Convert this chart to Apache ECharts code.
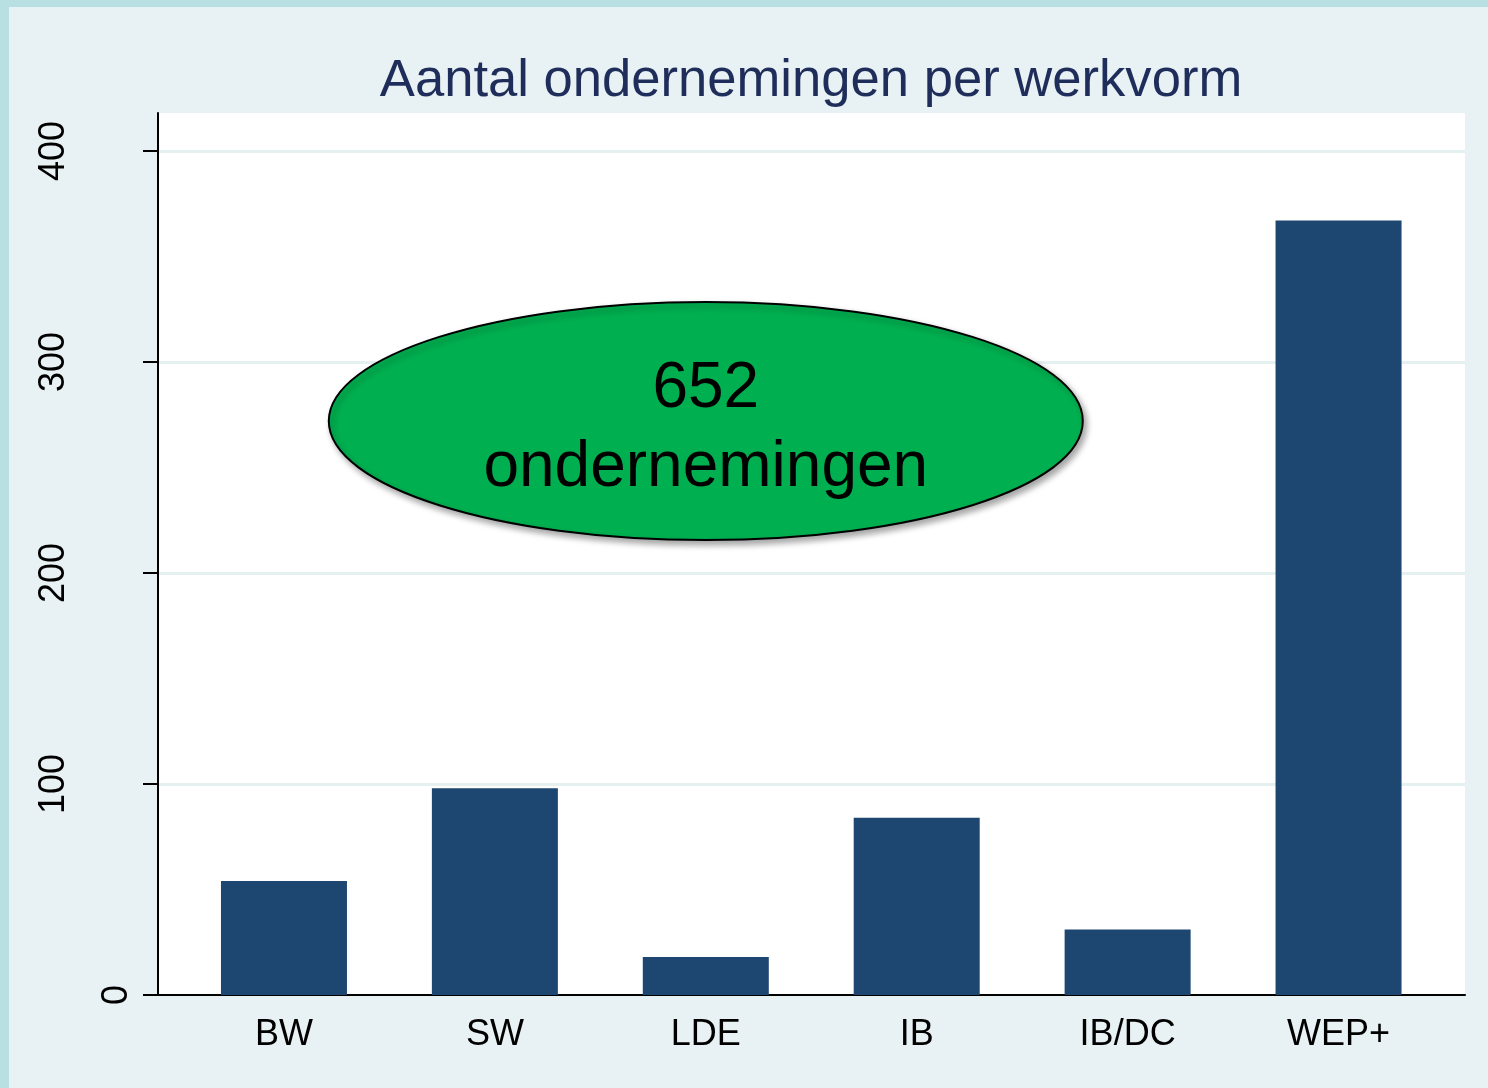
<!DOCTYPE html>
<html>
<head>
<meta charset="utf-8">
<script src="https://cdn.jsdelivr.net/npm/echarts@6/dist/echarts.min.js"></script>
<style>
  html, body { margin: 0; padding: 0; background: #b8e0e3; }
  #chart { position: absolute; left: 9px; top: 7px; width: 1479px; height: 1081px; background: #e8f1f3; }
</style>
</head>
<body>
<div id="chart"></div>
<script>
// data
const categories = ['BW', 'SW', 'LDE', 'IB', 'IB/DC', 'WEP+'];
const counts = [54, 98, 18, 84, 31, 367];
const yTicks = [0, 100, 200, 300, 400];
const yMax = 418;
const totalLabel = ['652', 'ondernemingen'];
const calloutAt = ['LDE', 272];   // centre of the green ellipse in data coords

const font = "'Liberation Sans', Arial, sans-serif";

var chart = echarts.init(document.getElementById('chart'));

var option = {
    animation: false,
    title: {
        text: 'Aantal ondernemingen per werkvorm',
        left: 802,
        top: 48,
        padding: 0,
        textAlign: 'center',
        textStyle: { fontFamily: font, fontSize: 52.6, fontWeight: 'normal', color: '#1f2d5a' }
    },
    grid: [
        // plot frame: white background, axis lines, gridlines
        { left: 149, right: 23, top: 106, bottom: 93, show: true, backgroundColor: '#ffffff', borderWidth: 0 },
        // bars: narrower band so that categories sit where they do in the original
        { left: 169.5, right: 44, top: 106, bottom: 93 }
    ],
    xAxis: [
        {
            gridIndex: 0, type: 'value', min: 0, max: 1, position: 'bottom',
            axisLine: { show: true, lineStyle: { color: '#000', width: 2 } },
            axisTick: { show: false }, axisLabel: { show: false }, splitLine: { show: false }
        },
        {
            gridIndex: 1, type: 'category', data: categories, position: 'bottom',
            axisLine: { show: false }, axisTick: { show: false },
            axisLabel: { fontFamily: font, fontSize: 36, color: '#000', margin: 22 }
        }
    ],
    yAxis: [
        {
            gridIndex: 0, type: 'value', min: 0, max: yMax, position: 'left',
            axisLine: { show: true, lineStyle: { color: '#000', width: 2 } },
            axisTick: { show: true, length: 15, customValues: yTicks, lineStyle: { color: '#000', width: 2 } },
            axisLabel: { rotate: 90, customValues: yTicks.slice(1), fontFamily: font, fontSize: 36, color: '#000', margin: 86 },
            splitLine: { show: true, lineStyle: { color: '#e5f0f1', width: 3 } }
        },
        {
            gridIndex: 1, type: 'value', min: 0, max: yMax, show: false
        },
        {
            // the zero label sits closer to the axis in the original
            gridIndex: 0, type: 'value', min: 0, max: yMax, position: 'left',
            axisLine: { show: false }, axisTick: { show: false }, splitLine: { show: false },
            axisLabel: { rotate: 90, customValues: [yTicks[0]], fontFamily: font, fontSize: 36, color: '#000', margin: 23 }
        }
    ],
    series: [
        {
            type: 'bar',
            xAxisIndex: 1,
            yAxisIndex: 1,
            data: counts,
            barWidth: 126,
            itemStyle: { color: '#1d4670' }
        }
    ]
};

chart.setOption(option);

// green callout ellipse, placed through the bar axes
var c = chart.convertToPixel({ xAxisIndex: 1, yAxisIndex: 1 }, calloutAt);
chart.setOption({
    graphic: [
        {
            type: 'ellipse',
            shape: { cx: c[0], cy: c[1], rx: 377, ry: 119 },
            style: {
                fill: '#00b050', stroke: '#000', lineWidth: 2,
                shadowBlur: 6, shadowOffsetX: 3, shadowOffsetY: 4, shadowColor: 'rgba(0,0,0,0.35)'
            },
            z: 100
        },
        {
            type: 'text',
            x: c[0],
            y: c[1] + 8,
            style: {
                text: totalLabel.join('\n'),
                fontFamily: font, fontSize: 64, lineHeight: 79,
                fill: '#000', align: 'center', verticalAlign: 'middle'
            },
            z: 101
        }
    ]
});
</script>
</body>
</html>
